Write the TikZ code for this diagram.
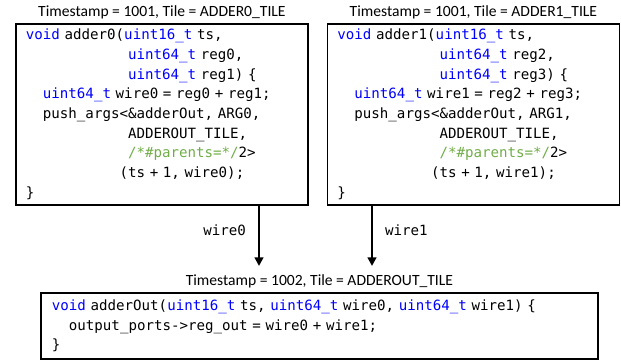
\documentclass[tikz,border=0pt]{standalone}
\usepackage{fontspec}
\setmainfont{Carlito}
\setmonofont{DejaVu Sans Mono}
\usepackage{tikz}
\usetikzlibrary{
  positioning,
  arrows.meta
}
\definecolor{typeblue}{RGB}{0,0,255}
\definecolor{cmtgreen}{RGB}{112,173,71}
\newcommand\ty[1]{\textcolor{typeblue}{#1}}
\newcommand\cmt[1]{\textcolor{cmtgreen}{#1}}
\newcommand\ind[1]{\hspace*{#1\fontcharwd\font`\0}}
\newcommand\codefont[1]{\ttfamily\fontsize{10.6}{#1}\selectfont\spaceskip=\fontcharwd\font`\0\relax}
\tikzset{
  code box/.style={draw,line width=1.4pt,anchor=north west,align=left,
    font=\codefont{14.75},inner xsep=7.5pt,inner ysep=0pt},
  tile label/.style={font=\fontsize{11.7}{13}\selectfont,inner sep=0pt},
  wire/.style={line width=1.8pt,-{Triangle[width=6.5pt,length=6.5pt]}},
  wire label/.style={font=\codefont{12},inner sep=0pt},
}

\begin{document}
\begin{tikzpicture}[x=0.75pt,y=-0.75pt]
\useasboundingbox (0,0) rectangle (621,360);
\foreach[count=\k from 0] \xpos in {15,326.5}
{
  \pgfmathtruncatemacro\ra{2*\k}
  \pgfmathtruncatemacro\rb{2*\k+1}
  \node[code box, text width=204pt, minimum height=135.75pt] (adder\k) at (\xpos,23) {%
    \ty{void} adder\k(\ty{uint16\_t} ts,\\
    \ind{12}\ty{uint64\_t} reg\ra,\\
    \ind{12}\ty{uint64\_t} reg\rb) \{\\
    \ind{2}\ty{uint64\_t} wire\k{} = reg\ra{} + reg\rb;\\
    \ind{2}push\_args<\&adderOut, ARG\k,\\
    \ind{12}ADDEROUT\_TILE,\\
    \ind{12}\cmt{/*\#parents=*/}2>\\
    \ind{11}(ts + 1, wire\k);\\
    \}};
  \node[tile label, above=5pt of adder\k.north, anchor=base] (title\k) {Timestamp = 1001, Tile = ADDER\k\_TILE};
}
\node[code box, text width=401.25pt, inner xsep=8.25pt, minimum height=49.5pt] (adderOut) at (40,292) {%
  \ty{void} adderOut(\ty{uint16\_t} ts, \ty{uint64\_t} wire0, \ty{uint64\_t} wire1) \{\\
  \ind{2}output\_ports->reg\_out = wire0 + wire1;\\
  \}};
\node[tile label, above=5pt of adderOut.north, anchor=base] (titleOut) {Timestamp = 1002, Tile = ADDEROUT\_TILE};
\coordinate (end0) at (259,266);
\coordinate (end1) at (372,266);
\draw[wire] (adder0.south -| end0) -- node[wire label, pos=0.4, left=9pt] (label0) {wire0} (end0);
\draw[wire] (adder1.south -| end1) -- node[wire label, pos=0.4, right=9pt] (label1) {wire1} (end1);
\end{tikzpicture}
\end{document}
